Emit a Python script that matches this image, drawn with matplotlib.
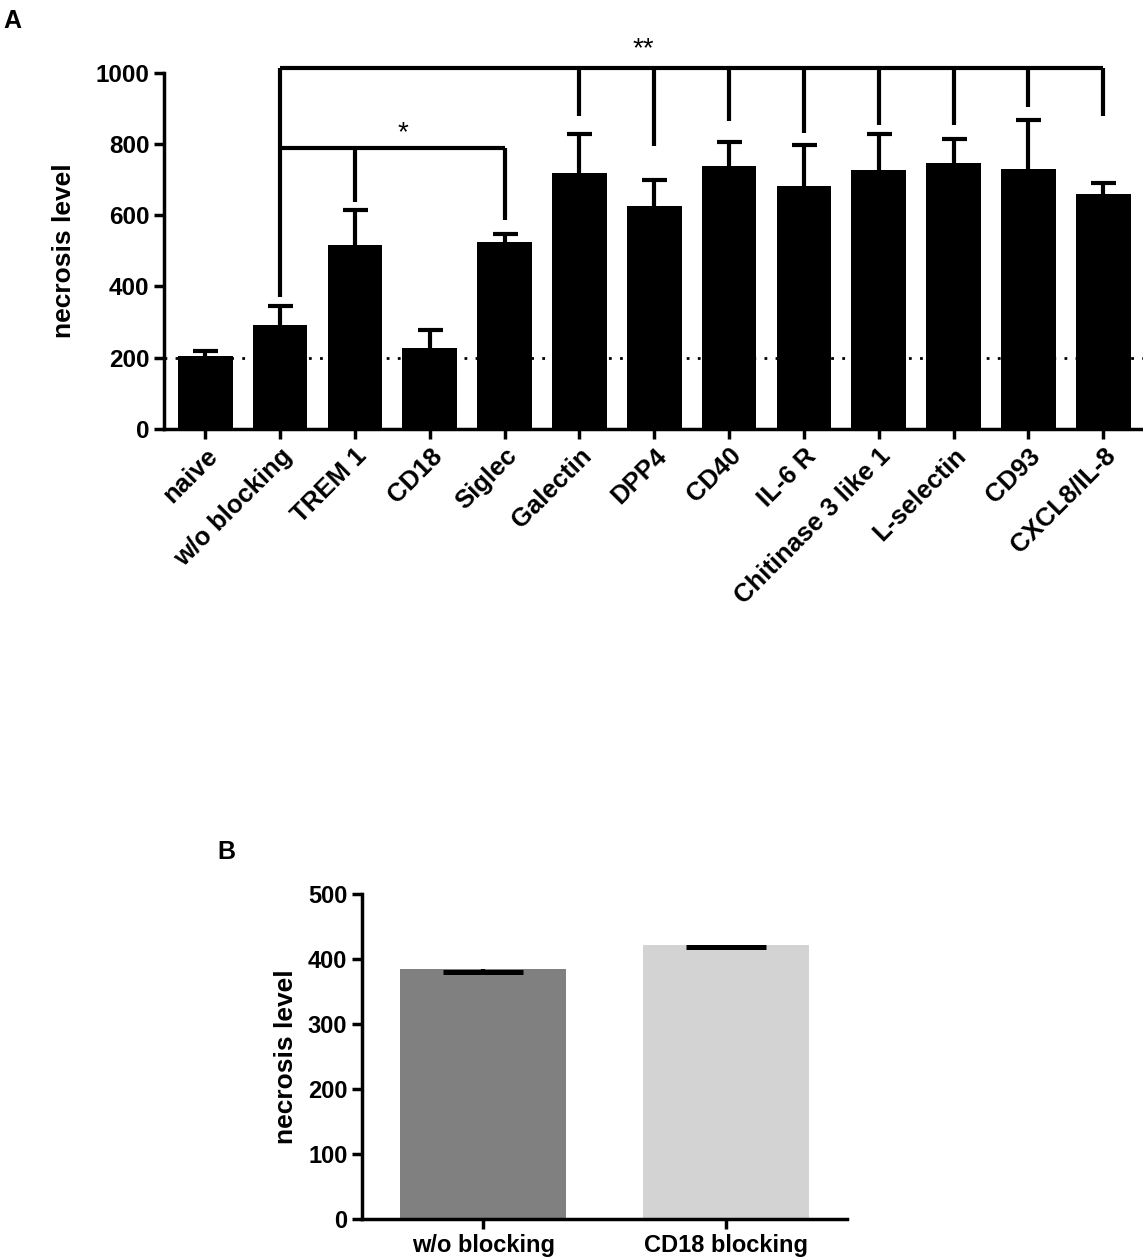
import matplotlib
matplotlib.use("Agg")
import matplotlib.pyplot as plt

plt.rcParams['font.family'] = ['Liberation Sans', 'DejaVu Sans']
plt.rcParams['font.weight'] = 'bold'

# panel A data
groups = ['naive', 'w/o blocking', 'TREM 1', 'CD18', 'Siglec', 'Galectin', 'DPP4',
          'CD40', 'IL-6 R', 'Chitinase 3 like 1', 'L-selectin', 'CD93', 'CXCL8/IL-8']
means = [205, 293, 516, 227, 524, 718, 627, 739, 681, 728, 746, 730, 660]
errs = [13, 52, 99, 50, 23, 110, 71, 66, 115, 101, 69, 137, 29]
baseline = 200

# significance brackets (** : w/o blocking vs Galectin..CXCL8, * : vs TREM 1 and Siglec)
top_y = 1012
top_legs = [5, 6, 7, 8, 9, 10, 11, 12]
top_leg_ends = [878, 793, 864, 831, 852, 852, 903, 878]
low_y = 789
low_legs = [2, 4]
low_leg_ends = [638, 587]
ref_leg_end = 370

# panel B data
b_groups = ['w/o blocking', 'CD18 blocking']
b_means = [384, 422]
b_errs = [3.5, 3.5]
b_colors = ['#808080', '#d3d3d3']

fig = plt.figure(figsize=(11.43, 12.57), dpi=100)

# ---- A ----
ax = fig.add_axes([0.1435, 0.6587, 0.8565, 0.2835])
x = list(range(len(groups)))
ax.axhline(baseline, color='black', lw=2, ls=(0, (1, 3)), zorder=1)
ax.bar(x, means, width=0.73, color='black', zorder=2)
eb = ax.errorbar(x, means, yerr=[[0] * len(errs), errs], fmt='none', ecolor='black',
                 elinewidth=3, capsize=9, capthick=3, zorder=3)
eb[1][0].set_visible(False)  # only the upper cap

kw = dict(color='black', lw=3, clip_on=False, solid_capstyle='butt')
ax.plot([1, 1], [top_y, ref_leg_end], **kw)
ax.plot([1, top_legs[-1]], [top_y, top_y], **kw)
for xi, ye in zip(top_legs, top_leg_ends):
    ax.plot([xi, xi], [top_y, ye], **kw)
ax.plot([1, low_legs[-1]], [low_y, low_y], **kw)
for xi, ye in zip(low_legs, low_leg_ends):
    ax.plot([xi, xi], [low_y, ye], **kw)
ax.text(5.85, 1030, '**', ha='center', va='bottom', fontsize=20, fontweight='normal')
ax.text(2.64, 795, '*', ha='center', va='bottom', fontsize=20, fontweight='normal')

ax.set_xlim(-0.55, 12.53)
ax.set_ylim(0, 1000)
ax.set_yticks([0, 200, 400, 600, 800, 1000])
ax.set_xticks(x)
ax.set_xticklabels(groups, rotation=45, ha='right', rotation_mode='anchor', fontsize=18.5)
ax.set_ylabel('necrosis level', fontsize=19, fontweight='bold', labelpad=14)
ax.spines['top'].set_visible(False)
ax.spines['right'].set_visible(False)
ax.spines['left'].set_linewidth(2.5)
ax.spines['bottom'].set_linewidth(2.5)
ax.tick_params(axis='y', labelsize=17.5)
ax.tick_params(axis='both', width=2.5, length=7)
fig.text(0.003, 0.983, 'A', fontsize=18, fontweight='bold', va='center')

# ---- B ----
bx = fig.add_axes([0.3167, 0.0302, 0.4243, 0.2586])
xb = [0, 1]
bx.bar(xb, b_means, width=0.686, color=b_colors, zorder=2)
ebb = bx.errorbar(xb, b_means, yerr=[b_errs, [0, 0]], fmt='none', ecolor='black',
                  elinewidth=3, capsize=29, capthick=3.6, zorder=3)
ebb[1][1].set_visible(False)  # only the lower cap
bx.set_xlim(-0.5, 1.5)
bx.set_ylim(0, 500)
bx.set_yticks([0, 100, 200, 300, 400, 500])
bx.set_xticks(xb)
bx.set_xticklabels(b_groups)
bx.set_ylabel('necrosis level', fontsize=19, fontweight='bold', labelpad=7)
bx.spines['top'].set_visible(False)
bx.spines['right'].set_visible(False)
bx.spines['left'].set_linewidth(2.5)
bx.spines['bottom'].set_linewidth(2.5)
bx.tick_params(axis='both', labelsize=17, width=2.5, length=7)
fig.text(0.19, 0.322, 'B', fontsize=18, fontweight='bold', va='center')

fig.savefig('out.png', dpi=100)
